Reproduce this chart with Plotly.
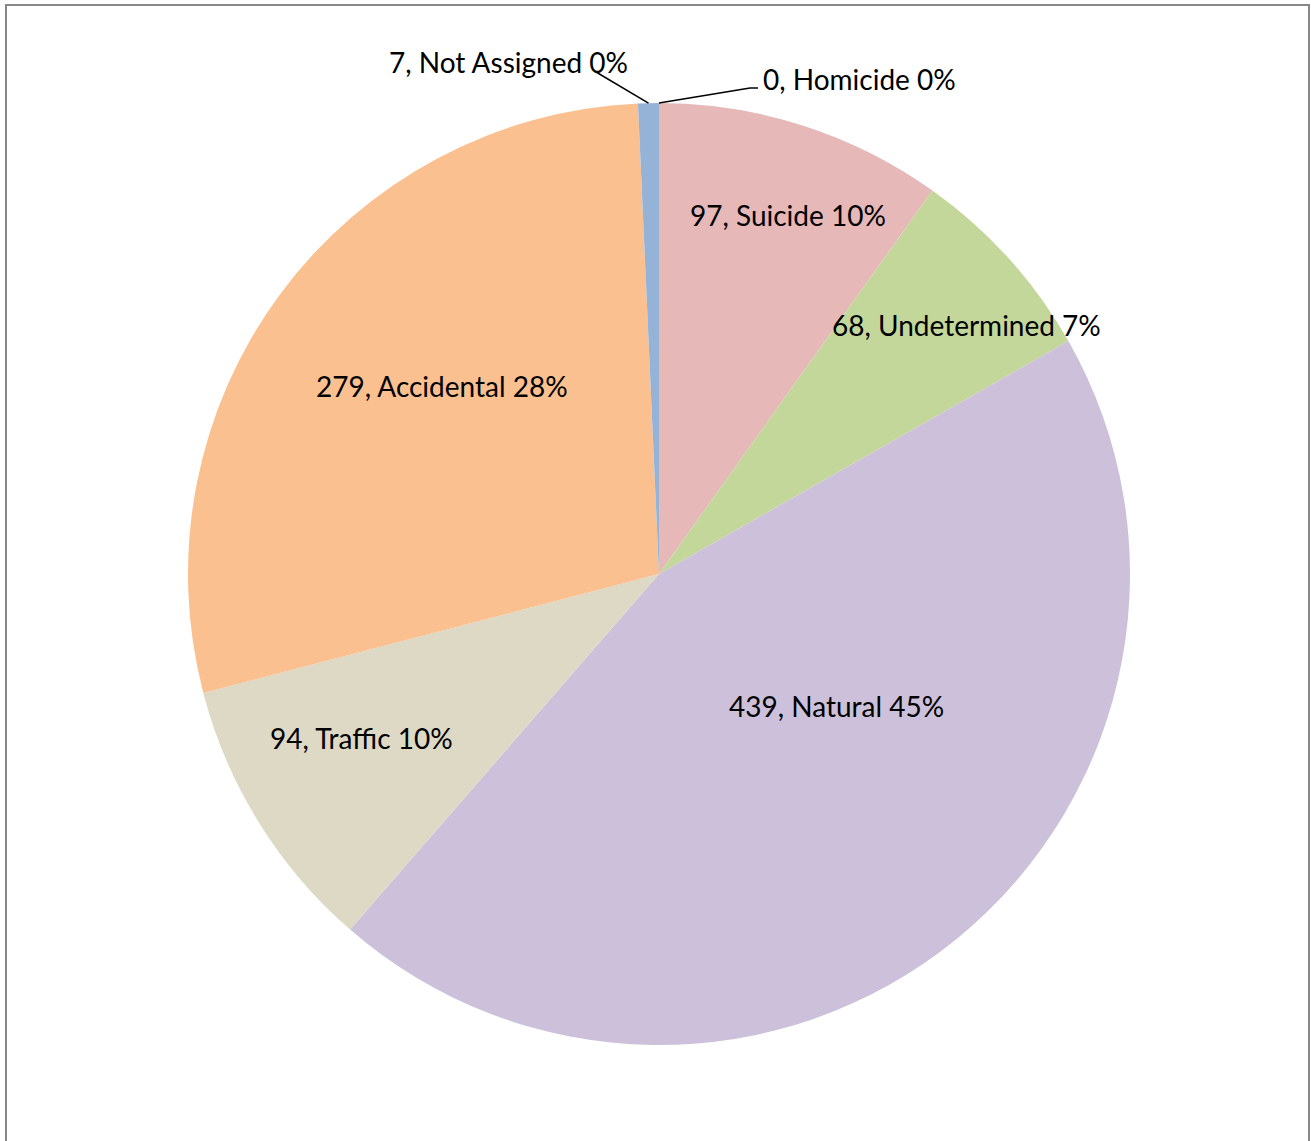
import math
import plotly.graph_objects as go

# data (clockwise from 12 o'clock)
categories = ['Homicide', 'Suicide', 'Undetermined', 'Natural', 'Traffic', 'Accidental', 'Not Assigned']
counts = [0, 97, 68, 439, 94, 279, 7]
pct_labels = ['0%', '10%', '7%', '45%', '10%', '28%', '0%']
colors = ['#C0504D', '#E6B8B7', '#C4D79B', '#CCC0DA', '#DDD9C4', '#FAC090', '#95B3D7']

W, H = 1311, 1141
CX, CY, R = 659, 574, 471  # pie centre / radius in pixels

# label placement (Excel "best fit" look): radius fraction and angle shift per slice
label_r = [None, 0.81, 0.84, 0.47, 0.72, 0.61, None]
label_shift = [0, 2, 3, -14, 3, 4.5, 0]
FONT = 'Lato'
FSIZE = 28

fig = go.Figure(go.Pie(
    labels=categories,
    values=counts,
    sort=False,
    direction='clockwise',
    rotation=0,
    marker=dict(colors=colors, line=dict(width=0)),
    textinfo='none',
    hoverinfo='label+value+percent',
    showlegend=False,
    domain=dict(x=[(CX - R) / W, (CX + R) / W],
                y=[1 - (CY + R) / H, 1 - (CY - R) / H]),
))

total = sum(counts)
annotations = []
shapes = []
cum = 0
mids = []
for v in counts:
    mids.append((cum + v / 2) / total * 360)
    cum += v


def px(r, ang):
    a = math.radians(ang)
    return CX + r * math.sin(a), CY - r * math.cos(a)


def label(x, y, text, xanchor='center'):
    return dict(x=x / W, y=1 - y / H, xref='paper', yref='paper',
                xanchor=xanchor, yanchor='middle', text=text, showarrow=False,
                font=dict(family=FONT, size=FSIZE, color='black'))


for i, name in enumerate(categories):
    if label_r[i] is not None:
        x, y = px(label_r[i] * R, mids[i] + label_shift[i])
        annotations.append(label(x, y, f'{counts[i]}, {name} {pct_labels[i]}'))

# outside labels with leader lines for the tiny slices
ex, ey = px(R, mids[6])
annotations.append(label(630, 62, f'{counts[6]}, {categories[6]} {pct_labels[6]}', 'right'))
shapes.append(dict(type='line', xref='paper', yref='paper', x0=596 / W, y0=1 - 72 / H,
                   x1=ex / W, y1=1 - ey / H, line=dict(color='black', width=1.5)))

hx, hy = px(R, mids[0])
annotations.append(label(761, 79, f'{counts[0]}, {categories[0]} {pct_labels[0]}', 'left'))
shapes.append(dict(type='path', xref='paper', yref='paper',
                   path=f'M {hx / W} {1 - hy / H} L {750 / W} {1 - 88 / H} L {758 / W} {1 - 88 / H}',
                   line=dict(color='black', width=1.5)))

# chart frame
shapes.append(dict(type='rect', xref='paper', yref='paper', x0=6 / W, y0=-0.01,
                   x1=1309 / W, y1=1 - 5 / H, line=dict(color='#888888', width=2)))

fig.update_layout(
    width=W, height=H,
    margin=dict(l=0, r=0, t=0, b=0),
    paper_bgcolor='white',
    plot_bgcolor='white',
    annotations=annotations,
    shapes=shapes,
    font=dict(family=FONT),
)

fig.write_html('out.html', config={'displayModeBar': False},
               post_script="document.body.style.margin = '0';")
